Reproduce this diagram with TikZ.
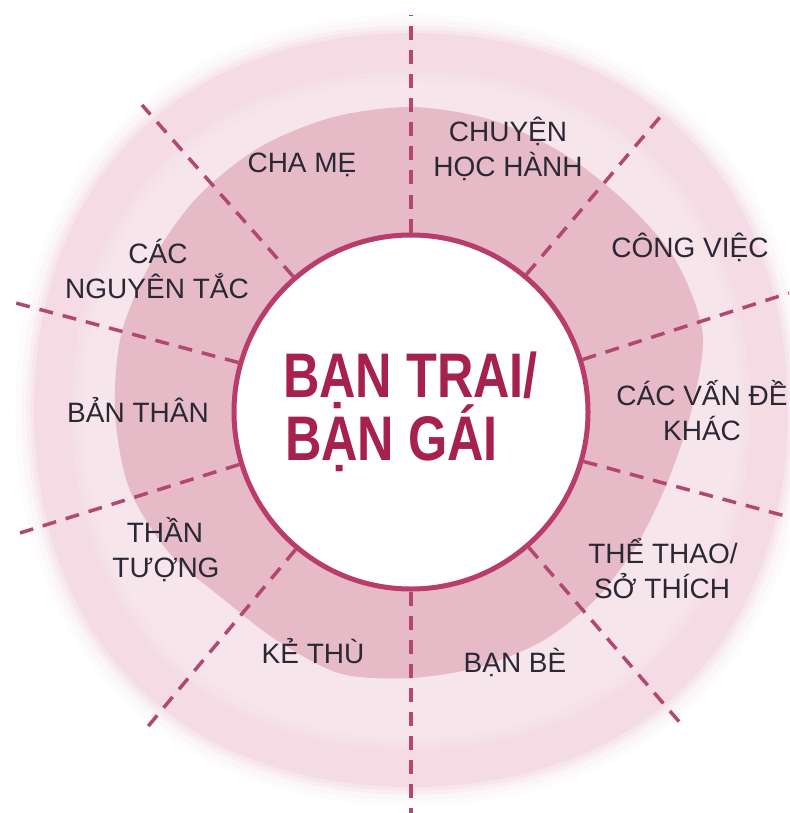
\documentclass[tikz,border=0pt]{standalone}
\usepackage{fontspec}
\setmainfont{Liberation Sans}
\newfontfamily\bigfont[FakeStretch=0.8]{Liberation Sans}
\definecolor{palepink}{RGB}{244,219,228}
\definecolor{lightband}{RGB}{250,236,241}
\definecolor{darkpink}{RGB}{230,186,199}
\definecolor{ringcol}{RGB}{184,60,108}
\definecolor{dashcol}{RGB}{178,72,112}
\definecolor{titlecol}{RGB}{166,32,80}
\definecolor{labcol}{RGB}{42,40,52}
\tikzset{
  dline/.style={draw=dashcol, line width=3.5pt, dash pattern=on 14pt off 10pt},
  lab/.style={font=\fontsize{28}{28}\selectfont, text=labcol, anchor=base, inner sep=0pt},
  bigtxt/.style={font=\bigfont\bfseries\fontsize{63}{63}\selectfont, text=titlecol, anchor=base west, inner sep=0pt},
  hub/.style={circle, draw=ringcol, line width=5pt, fill=white, minimum size=354pt, inner sep=0pt}
}
\begin{document}
\begin{tikzpicture}[x=1pt,y=-1pt]
\useasboundingbox (0,0) rectangle (789,813);
\fill[white] (0,0) rectangle (789,813);
% background brushed rings
\begin{scope}[shift={(411,410)}, x=1pt, y=1pt]
  \foreach \s/\o in {1.05/0.10,1.035/0.15,1.02/0.25,1.01/0.4,1.0/1}{
    \fill[palepink, opacity=\o, scale=\s] plot[domain=0:360, samples=73, smooth cycle] (\x:{383-6*cos(4*\x)});
  }
  \foreach \s in {0.90,0.885,0.87}{
    \fill[lightband, opacity=0.3, scale=\s] plot[domain=0:360, samples=73, smooth cycle] (\x:{383-6*cos(4*\x)});
  }
\end{scope}
\begin{scope}[shift={(411,412)}, x=1pt, y=1pt]
  \fill[darkpink] plot[smooth cycle] coordinates {
      (0:280) (15:302) (30:305) (45:300) (60:300) (75:303) (90:305) (105:305)
      (120:305) (135:303) (150:300) (165:300) (180:296) (195:292) (210:280)
      (225:265) (240:265) (255:271) (270:266) (285:264) (300:264) (315:263)
      (330:262) (345:266)};
\end{scope}
% hub
\node[hub] (c) at (411,412) {};
% outer ends of the dividers
\coordinate (e1) at (411,15);
\coordinate (e2) at (666,110);
\coordinate (e3) at (789,293);
\coordinate (e4) at (789,517);
\coordinate (e5) at (682,725);
\coordinate (e6) at (411,813);
\coordinate (e7) at (145,730);
\coordinate (e8) at (20,533);
\coordinate (e9) at (12,302);
\coordinate (e10) at (142,105);
\draw[dline] (c.90) -- (e1);
\draw[dline] (c.50.5) -- (e2);
\draw[dline] (c.17.5) -- (e3);
\draw[dline] (c.-16) -- (e4);
\draw[dline] (c.-49.5) -- (e5);
\draw[dline] (c.-90) -- (e6);
\draw[dline] (c.230) -- (e7);
\draw[dline] (c.197) -- (e8);
\draw[dline] (c.164) -- (e9);
\draw[dline] (c.131) -- (e10);
% title
\node[bigtxt] (t1) at (283,397) {BẠN TRAI/};
\node[bigtxt] (t2) at (285,460) {BẠN GÁI};
% labels
\node[lab] (l1) at (302,172) {CHA MẸ};
\node[lab] (l2a) at (508,142) {CHUYỆN};
\node[lab] (l2b) at (508,177) {HỌC HÀNH};
\node[lab] (l3) at (690,257) {CÔNG VIỆC};
\node[lab] (l4a) at (702,405) {CÁC VẤN ĐỀ};
\node[lab] (l4b) at (702,440) {KHÁC};
\node[lab] (l5a) at (663,563) {THỂ THAO/};
\node[lab] (l5b) at (662,598) {SỞ THÍCH};
\node[lab] (l6) at (515,672) {BẠN BÈ};
\node[lab] (l7) at (313,663) {KẺ THÙ};
\node[lab] (l8a) at (165,542) {THẦN};
\node[lab] (l8b) at (166,577) {TƯỢNG};
\node[lab] (l9) at (138,422) {BẢN THÂN};
\node[lab] (l10a) at (158,263) {CÁC};
\node[lab] (l10b) at (157,298) {NGUYÊN TẮC};
\end{tikzpicture}
\end{document}
